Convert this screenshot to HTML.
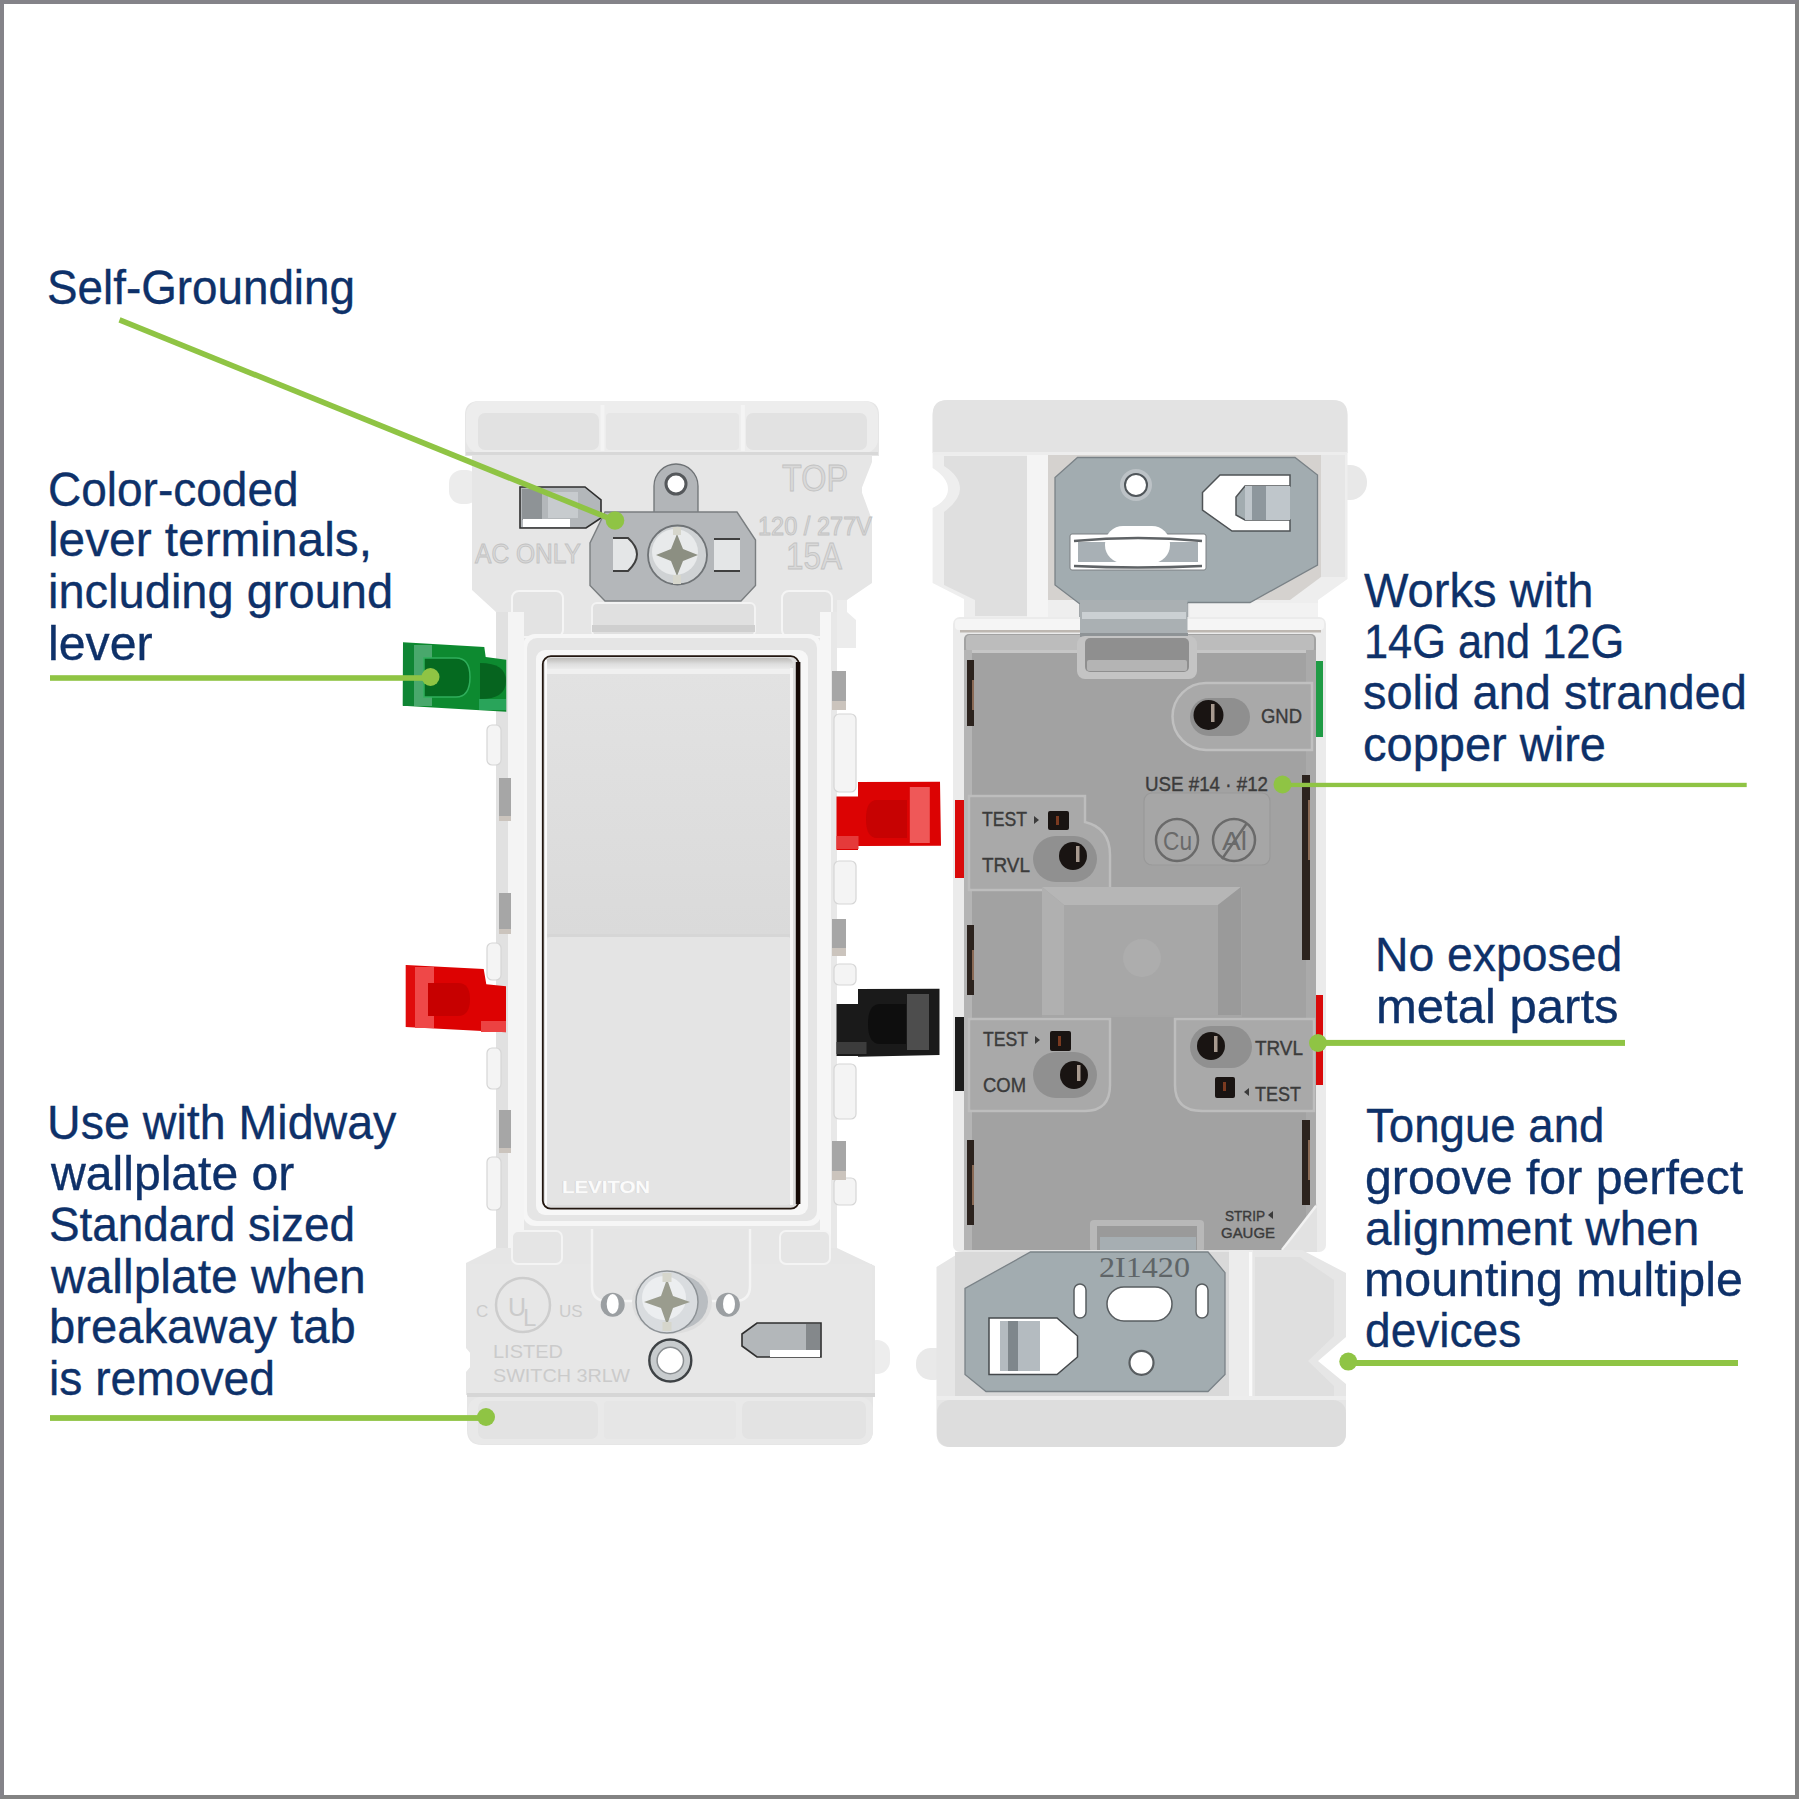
<!DOCTYPE html>
<html><head><meta charset="utf-8">
<style>
html,body{margin:0;padding:0;background:#fff;}
#c{position:relative;width:1800px;height:1800px;overflow:hidden;background:#fff;}
#bd{position:absolute;left:0;top:0;width:1791px;height:1791px;border-left:4px solid #848389;border-top:4px solid #848389;border-right:4px solid #838383;border-bottom:4px solid #838383;}
#art{position:absolute;left:0;top:0;}
.t{position:absolute;font-family:"Liberation Sans",sans-serif;font-size:48px;line-height:48px;color:#0e3169;-webkit-text-stroke:0.35px #0e3169;white-space:nowrap;transform-origin:0 0;}
</style></head><body><div id="c">
<div id="bd"></div>
<svg id="art" width="1800" height="1800" viewBox="0 0 1800 1800">
<!-- PRODUCTS -->
<g id="left">
<!-- ear bumps -->
<rect x="449" y="470" width="30" height="34" rx="13" fill="#ececec"/>
<rect x="864" y="1340" width="26" height="34" rx="13" fill="#ededed"/>
<!-- main silhouette -->
<path fill="#e6e6e6" d="M479,401 H865 Q879,401 879,415 V456 H872 V462 L861,490 L872,520 V583 L847,600 V612 L837,620 V1248 L875,1266 V1395 H873 V1430 Q873,1445 858,1445 H482 Q467,1445 467,1430 V1395 H466 V1372 L476,1360 L466,1348 V1263 L496,1248 V612 L472,590 V456 H465 V415 Q465,401 479,401 Z"/>
<!-- top strap -->
<rect x="466" y="401" width="412" height="52" rx="14" fill="#ededed"/>
<rect x="478" y="413" width="121" height="37" rx="7" fill="#e2e2e2"/>
<rect x="606" y="413" width="133" height="37" rx="4" fill="#e6e6e6"/>
<rect x="746" y="413" width="121" height="37" rx="7" fill="#e2e2e2"/>
<rect x="600.5" y="405" width="4" height="46" fill="#f4f4f4"/>
<rect x="740.8" y="405" width="4" height="46" fill="#f4f4f4"/>
<rect x="466" y="452" width="412" height="3" fill="#d8d8d8"/>
<!-- upper body face -->
<rect x="474" y="455" width="388" height="134" fill="#e6e6e6"/>
<!-- lower tabs near yoke -->
<rect x="512" y="591" width="51" height="46" rx="7" fill="#e3e3e3" stroke="#f5f5f5" stroke-width="2"/>
<rect x="782" y="591" width="50" height="46" rx="7" fill="#e3e3e3" stroke="#f5f5f5" stroke-width="2"/>
<rect x="592" y="603" width="163" height="33" rx="5" fill="#e0e0e0" stroke="#f3f3f3" stroke-width="2"/>
<rect x="592" y="625" width="163" height="7" fill="#cfcfcf"/>
<!-- self-grounding clip -->
<path d="M520,487 H585 L601,500 V518 L586,528 H520 Z" fill="#b3b7ba" stroke="#2f2f2f" stroke-width="1.6"/>
<rect x="522" y="489" width="20" height="31" fill="#8e9396"/>
<rect x="548" y="492" width="30" height="26" fill="#c7cbce"/>
<rect x="523" y="519" width="47" height="8" fill="#ffffff"/>
<!-- embossed text -->
<g font-family="Liberation Sans" fill="#d9d9d9" stroke="#c2c2c2" stroke-width="0.9">
<text x="475" y="563" font-size="27" textLength="106" lengthAdjust="spacingAndGlyphs">AC ONLY</text>
<text x="782" y="491" font-size="37" textLength="66" lengthAdjust="spacingAndGlyphs">TOP</text>
<text x="758" y="535" font-size="25" textLength="114" lengthAdjust="spacingAndGlyphs">120 / 277V</text>
<text x="786" y="569" font-size="37" textLength="56" lengthAdjust="spacingAndGlyphs">15A</text>
</g>
<!-- yoke -->
<path d="M654,514 V486 A22,22 0 1 1 698,486 V514 Z" fill="#b2b5b8" stroke="#6f7376" stroke-width="1.3"/>
<circle cx="676" cy="484" r="10" fill="#ffffff" stroke="#55585b" stroke-width="3"/>
<path d="M605,512 H737 L755.5,540 V585.5 L741,601 H605 L590,585.5 V543 Z" fill="#b4b7ba" stroke="#7a7e80" stroke-width="1.4"/>
<!-- slots -->
<path d="M613,538 H628 Q646,554 628,571 H613" fill="#e4e6e7" stroke="#3f3f3f" stroke-width="2"/>
<path d="M714,539 H740 V571 H714" fill="#e4e6e7"/>
<path d="M714,539 H740 M714,571 H740" stroke="#3f3f3f" stroke-width="2"/>
<!-- screw -->
<circle cx="677.5" cy="555" r="29.5" fill="#cfd2d4" stroke="#6f7376" stroke-width="1.8"/>
<circle cx="675" cy="552" r="23" fill="#e8eaeb"/>
<path d="M677,534 L683,549 L698,555 L683,561 L677,576 L671,561 L656,555 L671,549 Z" fill="#8c8f82"/>
<rect x="673" y="527" width="8" height="8" fill="#d6d6cc"/><rect x="673" y="575" width="8" height="9" fill="#d6d6cc"/>
<!-- frame around paddle -->
<rect x="523" y="634" width="298" height="592" rx="12" fill="#f6f6f6"/>
<rect x="527" y="638" width="290" height="583" rx="10" fill="#e5e5e5"/>
<rect x="536" y="650" width="272" height="565" rx="9" fill="#f7f7f7"/>
<!-- side columns -->
<rect x="496" y="612" width="12" height="636" fill="#e1e1e1"/>
<rect x="508" y="612" width="16" height="636" fill="#f4f4f4"/>
<rect x="820" y="612" width="11" height="636" fill="#f6f6f6"/>
<rect x="831" y="612" width="6" height="636" fill="#e8e8e8"/>
<path d="M837,600 H847 V612 L856,620 V648 H837 Z" fill="#ececec"/>
<g fill="#f4f4f4" stroke="#d6d6d6" stroke-width="1.2">
<rect x="487" y="725" width="14" height="40" rx="5"/>
<rect x="487" y="943" width="14" height="37" rx="5"/>
<rect x="487" y="1048" width="14" height="41" rx="5"/>
<rect x="487" y="1157" width="14" height="53" rx="5"/>
<rect x="834" y="714" width="22" height="78" rx="5"/>
<rect x="834" y="861" width="22" height="43" rx="5"/>
<rect x="834" y="964" width="22" height="21" rx="5"/>
<rect x="834" y="1064" width="22" height="55" rx="5"/>
<rect x="834" y="1178" width="22" height="27" rx="5"/>
</g>
<g fill="#a6a6a6">
<rect x="499" y="778" width="12" height="38"/>
<rect x="499" y="893" width="12" height="36"/>
<rect x="499" y="1110" width="12" height="38"/>
<rect x="832" y="671" width="14" height="30"/>
<rect x="832" y="919" width="14" height="29"/>
<rect x="832" y="1141" width="14" height="30"/>
</g>
<g fill="#cbc4bd">
<rect x="499" y="816" width="12" height="5"/>
<rect x="499" y="929" width="12" height="5"/>
<rect x="499" y="1148" width="12" height="5"/>
<rect x="832" y="701" width="14" height="9"/>
<rect x="832" y="948" width="14" height="8"/>
<rect x="832" y="1171" width="14" height="9"/>
</g>
<!-- paddle -->
<defs><linearGradient id="pt" x1="0" y1="0" x2="0" y2="1"><stop offset="0" stop-color="#bdbbb8"/><stop offset="0.5" stop-color="#dedede"/><stop offset="1" stop-color="#eeeeee"/></linearGradient><linearGradient id="pu" x1="0" y1="0" x2="0" y2="1"><stop offset="0" stop-color="#e2e2e2"/><stop offset="1" stop-color="#dadada"/></linearGradient></defs>
<rect x="542.8" y="656.2" width="256" height="552.5" rx="8" fill="#dddddd" stroke="#22160f" stroke-width="1.8"/>
<rect x="545" y="658" width="248" height="12" rx="6" fill="url(#pt)"/>
<rect x="545" y="669" width="248" height="5" fill="#f0f0f0"/>
<rect x="546" y="674" width="246" height="261" fill="url(#pu)"/>
<rect x="546" y="934" width="246" height="3" fill="#d6d6d6"/>
<rect x="546" y="937" width="246" height="268" rx="5" fill="#e4e4e4"/>
<rect x="545" y="660" width="2" height="545" fill="#fbfbfb"/>
<rect x="790" y="668" width="3" height="537" fill="#f7f7f7"/>
<rect x="795.8" y="662" width="4.6" height="542" fill="#150a07"/>
<text x="561" y="1193" font-family="Liberation Sans" font-weight="bold" font-size="17" fill="#d6d6d6" textLength="88" lengthAdjust="spacingAndGlyphs">LEVITON</text>
<text x="562" y="1193" font-family="Liberation Sans" font-weight="bold" font-size="17" fill="#fbfbfb" textLength="88" lengthAdjust="spacingAndGlyphs">LEVITON</text>
<!-- lower body details -->
<rect x="470" y="1264" width="402" height="131" fill="#e7e7e7"/>
<path d="M592,1229 V1286 Q592,1301 607,1301 H735 Q750,1301 750,1286 V1229" fill="#e5e5e5" stroke="#f4f4f4" stroke-width="2.5"/>
<rect x="512" y="1231" width="50" height="33" rx="6" fill="#e5e5e5" stroke="#f4f4f4" stroke-width="2"/>
<rect x="780" y="1231" width="50" height="33" rx="6" fill="#e5e5e5" stroke="#f4f4f4" stroke-width="2"/>
<!-- UL logo -->
<circle cx="523" cy="1305" r="27" fill="none" stroke="#cdcdcd" stroke-width="2.5"/>
<g font-family="Liberation Sans" fill="#cbcbcb">
<text x="508" y="1316" font-size="25">U</text>
<text x="523" y="1326" font-size="24">L</text>
<text x="476" y="1317" font-size="17">C</text>
<text x="559" y="1317" font-size="17">US</text>
<text x="493" y="1358" font-size="19" textLength="70" lengthAdjust="spacingAndGlyphs">LISTED</text>
<text x="493" y="1382" font-size="19" textLength="137" lengthAdjust="spacingAndGlyphs">SWITCH 3RLW</text>
</g>
<!-- bottom holes & screw -->
<circle cx="612.7" cy="1304.8" r="12" fill="#9b9fa2"/>
<ellipse cx="612.7" cy="1304" rx="6" ry="10" fill="#ffffff"/>
<circle cx="727.9" cy="1304.8" r="12" fill="#9b9fa2"/>
<ellipse cx="729" cy="1304" rx="6" ry="10" fill="#ffffff"/>
<ellipse cx="672" cy="1302" rx="40" ry="32" fill="#dedede"/>
<ellipse cx="675" cy="1302" rx="33" ry="28" fill="#b9bdc1"/>
<circle cx="667" cy="1302" r="31" fill="#d9dcdf" stroke="#8d9296" stroke-width="1.5"/>
<circle cx="664" cy="1298" r="22" fill="#eceef0"/>
<path d="M667,1279 L673,1296 L690,1302 L673,1308 L667,1325 L661,1308 L644,1302 L661,1296 Z" fill="#9a9c8e"/>
<rect x="662.5" y="1273" width="9" height="9" fill="#d6d6cc"/>
<rect x="662.5" y="1322" width="9" height="9" fill="#d6d6cc"/>
<circle cx="670.3" cy="1360.5" r="21" fill="#c8ccce" stroke="#3e4245" stroke-width="2.4"/>
<circle cx="670.3" cy="1360.5" r="13.2" fill="#ffffff" stroke="#8a8e91" stroke-width="1.5"/>
<!-- bottom clip -->
<path d="M757,1323 H821 V1357 H757 L742,1346 V1334 Z" fill="#b3b7ba" stroke="#2f2f2f" stroke-width="1.6"/>
<rect x="806" y="1324" width="14" height="32" fill="#84888b"/>
<rect x="770" y="1350" width="50" height="7" fill="#ffffff"/>
<!-- bottom strap -->
<rect x="467" y="1393" width="408" height="4" fill="#d6d6d6"/>
<rect x="468" y="1397" width="405" height="47" rx="13" fill="#e9e9e9"/>
<rect x="478" y="1401" width="120" height="38" rx="7" fill="#e3e3e3"/>
<rect x="604" y="1401" width="132" height="38" rx="4" fill="#e6e6e6"/>
<rect x="742" y="1401" width="124" height="38" rx="7" fill="#e3e3e3"/>
<!-- levers -->
<!-- green -->
<path d="M403,642.3 L484.3,647 L485.7,657 L506.3,659.7 V711.7 L402.7,705.7 Z" fill="#0d8a30"/>
<rect x="403" y="644" width="11" height="62" fill="#0f8534"/>
<rect x="414" y="645" width="18" height="61" fill="#49a86c"/>
<path d="M424,658 H456 Q470,658 470,677 Q470,697 456,697 H424 Z" fill="#056a20" stroke="#2fae5b" stroke-width="1.5"/>
<path d="M480,663 Q506,663 506,681 Q506,699 480,699 Z" fill="#06641f"/>
<rect x="479" y="699" width="27" height="11" fill="#29a45a"/>
<!-- red left -->
<path d="M405.7,965 L483.7,969 L486.3,984.3 L506,986.3 V1032.3 L405.7,1027 Z" fill="#dd0202"/>
<rect x="406" y="966" width="9" height="61" fill="#e00b0b"/>
<rect x="415" y="967" width="19" height="61" fill="#ef4848"/>
<path d="M428,983 H458 Q470,983 470,999 Q470,1016 458,1016 H428 Z" fill="#c70000"/>
<rect x="481" y="1021" width="25" height="11" fill="#ec4242"/>
<!-- red right -->
<path d="M858,782 L940,781.8 L941,845.8 L858,846 V850 H836.5 V796.4 H858 Z" fill="#dc0303"/>
<rect x="909.8" y="787" width="20" height="56" fill="#ef5858"/>
<path d="M877,800 H907 V838 H877 Q866,838 866,819 Q866,800 877,800 Z" fill="#c70202"/>
<rect x="836.5" y="836" width="22" height="13" fill="#e53a3a"/>
<!-- black -->
<path d="M858,989 L939.5,988.7 V1055 L858,1056.7 V1056 H836.5 V1004 H858 Z" fill="#1a1a1a"/>
<rect x="907" y="994" width="22" height="56" fill="#4d4d4d"/>
<path d="M880,1004 H906 V1044 H880 Q868,1044 868,1024 Q868,1004 880,1004 Z" fill="#0e0e0e"/>
<rect x="836.5" y="1042" width="30" height="12" fill="#3c3c3c"/>
</g>
<g id="right">
<!-- ears -->
<rect x="1328" y="465" width="39" height="35" rx="17" fill="#e8e8e8"/>
<rect x="916" y="1348" width="34" height="32" rx="15" fill="#e9e9e9"/>
<!-- upper silhouette -->
<path fill="#eeeeee" d="M947.6,400 H1332.5 Q1347.5,400 1347.5,415 V579 L1318,600 V622 H954 L964,617 V599 L932.6,583 V508 Q948,500 948,489 Q948,478 932.6,468 V415 Q932.6,400 947.6,400 Z"/>
<!-- top strap -->
<path fill="#e3e3e3" d="M947.6,400 H1332.5 Q1347.5,400 1347.5,415 V453 H932.6 V415 Q932.6,400 947.6,400 Z"/>
<rect x="933" y="452" width="414" height="3" fill="#ededed"/>
<!-- recesses -->
<path fill="#dfdfdf" d="M944,456 H1027 V616 H975 V600 L944,585 V512 Q960,500 960,489 Q960,476 944,466 Z"/>
<rect x="1027" y="455" width="21" height="166" fill="#f4f4f4"/>
<path fill="#d5d2cf" d="M1048,455 H1321 V577 L1290,600 H1048 Z"/>
<rect x="1321" y="455" width="24" height="122" fill="#e6e6e6"/>
<rect x="1190" y="603" width="128" height="19" fill="#f2f2f2"/>
<!-- top metal plate -->
<path d="M1077.5,457.5 H1295 L1317.5,475 V565 L1250,602.5 H1187.5 V660 H1080 V604 L1055,585 V477.5 Z" fill="#a2acb0" stroke="#7a8287" stroke-width="1.3"/>
<path d="M1080,604 H1187.5 V630 H1080 Z" fill="#b9bfc3"/>
<rect x="1082" y="612" width="104" height="6" fill="#d2d6d9"/>
<circle cx="1136" cy="485" r="16" fill="#bcc2c6"/>
<circle cx="1136" cy="485" r="11" fill="#ffffff" stroke="#50565a" stroke-width="2"/>
<!-- slot with springs -->
<rect x="1070" y="534" width="136" height="36" rx="2" fill="#ffffff" stroke="#7a7f82" stroke-width="1"/>
<rect x="1078" y="542" width="120" height="20" fill="#a8b0b5"/>
<rect x="1105" y="526" width="65" height="37" rx="18" fill="#ffffff"/>
<path d="M1074,541 Q1138,535 1202,541 M1074,566 Q1138,569 1202,566" stroke="#5f6366" stroke-width="2.4" fill="none"/>
<!-- C clip -->
<path d="M1220,475 H1290 V486 H1245 L1236,497 V515 L1245,520 H1290 V531 H1232 L1202.5,510 V492.5 Z" fill="#ffffff" stroke="#4f5356" stroke-width="1.5"/>
<rect x="1245" y="486" width="45" height="34" fill="#bfc6cb"/>
<rect x="1252" y="486" width="14" height="34" fill="#8e979d"/>
<!-- white frame & gray body -->
<rect x="953" y="617" width="373" height="635" rx="7" fill="#ebebeb"/>
<rect x="955" y="619" width="369" height="11" rx="4" fill="#f5f5f5"/>
<rect x="960" y="630" width="361" height="2.5" fill="#bdb7b1"/>
<rect x="964" y="634" width="352" height="616" rx="5" fill="#a2a2a2"/>
<rect x="966" y="635" width="348" height="17" rx="4" fill="#bcbcbc"/>
<rect x="966" y="650" width="348" height="3" fill="#c6c6c6"/>
<path d="M1080,600 H1187.5 V637 H1080 Z" fill="#aab0b3"/>
<rect x="1082" y="612" width="104" height="7" fill="#cbd0d3"/>
<rect x="1080" y="633" width="108" height="4" fill="#8e9396"/>
<!-- side edges -->
<rect x="964" y="650" width="8" height="600" fill="#b4b4b4"/>
<rect x="1306" y="650" width="10" height="600" fill="#aaaaaa"/>
<g fill="#2c231e">
<rect x="967" y="660" width="7" height="66"/>
<rect x="967" y="925" width="7" height="70"/>
<rect x="967" y="1140" width="7" height="85"/>
<rect x="1302" y="775" width="8" height="185"/>
<rect x="1302" y="1120" width="8" height="85"/>
</g>
<g fill="#8a6a55">
<rect x="972" y="680" width="2" height="30"/>
<rect x="972" y="950" width="2" height="30"/>
<rect x="972" y="1165" width="2" height="40"/>
<rect x="1308" y="800" width="2" height="60"/>
<rect x="1308" y="1140" width="2" height="40"/>
</g>
<!-- top tab recess -->
<rect x="1077" y="636" width="120" height="43" rx="8" fill="#c4c4c4"/>
<rect x="1085" y="638" width="104" height="34" rx="5" fill="#8f8f8f"/>
<rect x="1087" y="660" width="100" height="11" rx="2" fill="#b4b4b4"/>
<!-- GND raised -->
<path d="M1206,683 H1312 V750 H1206 A33.5,33.5 0 0 1 1206,683 Z" fill="#a9a9a9" stroke="#c0c0c0" stroke-width="2.5"/>
<rect x="1190" y="698" width="60" height="38" rx="19" fill="#8f8f8f"/>
<circle cx="1208.5" cy="715" r="15" fill="#191412"/>
<rect x="1211" y="704" width="3.5" height="18" fill="#a89a8f"/>
<!-- USE box -->
<rect x="1144" y="793" width="126" height="72" rx="8" fill="#a6a6a6" stroke="#999999" stroke-width="1.2"/>
<g font-family="Liberation Sans" fill="#3b3b3b" stroke="#3b3b3b" stroke-width="0.4">
<text x="1261" y="722.5" font-size="21" textLength="41" lengthAdjust="spacingAndGlyphs">GND</text>
<text x="1145" y="790.5" font-size="21" textLength="123" lengthAdjust="spacingAndGlyphs">USE #14 · #12</text>
</g>
<g fill="none" stroke="#6a6a6a" stroke-width="2.5">
<circle cx="1177" cy="840" r="21"/>
<circle cx="1234" cy="840" r="21"/>
<line x1="1222" y1="859" x2="1247" y2="823"/>
</g>
<g font-family="Liberation Sans" fill="#6a6a6a" font-size="26">
<text x="1163" y="850" textLength="29" lengthAdjust="spacingAndGlyphs">Cu</text>
<text x="1222" y="850" textLength="25" lengthAdjust="spacingAndGlyphs">Al</text>
</g>
<!-- TEST/TRVL top block -->
<path d="M969,796 H1085 V822 Q1110,828 1110,855 V890 H969 Z" fill="#a9a9a9" stroke="#bdbdbd" stroke-width="2.5"/>
<rect x="1033" y="836" width="64" height="46" rx="23" fill="#909090"/>
<circle cx="1073" cy="856" r="14" fill="#191412"/>
<rect x="1076" y="846" width="3.5" height="16" fill="#a89a8f"/>
<rect x="1048" y="811" width="21" height="19" rx="2" fill="#191412"/>
<rect x="1056" y="816" width="3" height="9" fill="#7a3a20"/>
<!-- center raised block -->
<rect x="1042" y="887" width="200" height="130" fill="#a6a6a6"/>
<path d="M1042,887 H1241 L1218,905 H1064 Z" fill="#b6b6b6"/>
<path d="M1042,887 L1064,905 V1015 H1042 Z" fill="#b0b0b0"/>
<path d="M1241,887 L1218,905 V1015 H1241 Z" fill="#9a9a9a"/>
<rect x="1064" y="905" width="154" height="110" fill="#a7a7a7"/>
<circle cx="1142" cy="958" r="19" fill="#adadad"/>
<!-- bottom left block -->
<path d="M969,1019 H1110 V1085 Q1110,1111 1085,1111 H969 Z" fill="#a9a9a9" stroke="#bdbdbd" stroke-width="2.5"/>
<rect x="1033" y="1052" width="64" height="46" rx="23" fill="#909090"/>
<circle cx="1074" cy="1075" r="14" fill="#191412"/>
<rect x="1077" y="1065" width="3.5" height="16" fill="#a89a8f"/>
<rect x="1050" y="1031" width="21" height="20" rx="2" fill="#191412"/>
<rect x="1058" y="1036" width="3" height="10" fill="#7a3a20"/>
<!-- bottom right block -->
<path d="M1175,1019 H1314 V1111 H1202 Q1175,1111 1175,1085 Z" fill="#a9a9a9" stroke="#bdbdbd" stroke-width="2.5"/>
<rect x="1190" y="1026" width="62" height="42" rx="21" fill="#909090"/>
<circle cx="1211" cy="1046" r="14" fill="#191412"/>
<rect x="1214" y="1036" width="3.5" height="16" fill="#a89a8f"/>
<rect x="1215" y="1077" width="20" height="21" rx="2" fill="#191412"/>
<rect x="1223" y="1082" width="3" height="9" fill="#7a3a20"/>
<g font-family="Liberation Sans" fill="#3b3b3b" stroke="#3b3b3b" stroke-width="0.4">
<text x="982" y="826" font-size="20" textLength="45" lengthAdjust="spacingAndGlyphs">TEST</text>
<text x="982" y="872" font-size="20" textLength="48" lengthAdjust="spacingAndGlyphs">TRVL</text>
<text x="983" y="1046" font-size="20" textLength="45" lengthAdjust="spacingAndGlyphs">TEST</text>
<text x="983" y="1092" font-size="20" textLength="43" lengthAdjust="spacingAndGlyphs">COM</text>
<text x="1255" y="1055" font-size="20" textLength="48" lengthAdjust="spacingAndGlyphs">TRVL</text>
<text x="1255" y="1101" font-size="20" textLength="46" lengthAdjust="spacingAndGlyphs">TEST</text>
<text x="1225" y="1221" font-size="15" textLength="40" lengthAdjust="spacingAndGlyphs">STRIP</text>
<text x="1221" y="1238" font-size="15" textLength="54" lengthAdjust="spacingAndGlyphs">GAUGE</text>
</g>
<g fill="#3b3b3b">
<path d="M1034,816 L1039,820 L1034,824 Z"/>
<path d="M1035,1036 L1040,1040 L1035,1044 Z"/>
<path d="M1249,1088 L1244,1092 L1249,1096 Z"/>
<path d="M1273,1211 L1268,1215 L1273,1219 Z"/>
</g>
<!-- strip gauge diagonal -->
<path d="M1317,1203 V1252 H1282 Z" fill="#e2e2e2"/>
<path d="M1282,1250 L1316,1206" stroke="#f2f2f2" stroke-width="2.5"/>
<!-- bottom tab -->
<rect x="1090" y="1220" width="114" height="32" rx="4" fill="#b8b8b8"/>
<rect x="1097" y="1226" width="100" height="26" fill="#9a9a9a"/>
<rect x="1100" y="1237" width="96" height="16" fill="#a6aeb2"/>
<!-- bottom plate area -->
<path fill="#e6e6e6" d="M964,1250 H1302 L1346,1273 V1337 L1318,1361 L1346,1384 V1433 Q1346,1447 1332,1447 H950 Q936.5,1447 936.5,1433 V1267 Z"/>
<rect x="955" y="1252" width="274" height="146" fill="#d9d9d9"/>
<rect x="1229" y="1250" width="24" height="148" fill="#ececec"/>
<rect x="1249" y="1252" width="3" height="146" fill="#fafafa"/>
<path fill="#dfdfdf" d="M1255,1257 H1300 L1334,1280 V1336 L1308,1361 L1334,1386 V1396 H1255 Z"/>
<path d="M1030.5,1252 H1208 L1225,1272.7 V1374.5 L1208,1391.5 H986 L965,1374.5 V1288.4 Z" fill="#a2acb0" stroke="#7a8287" stroke-width="1.3"/>
<text x="1099" y="1277" font-family="Liberation Serif" font-size="30" fill="#5f6568" textLength="91" lengthAdjust="spacingAndGlyphs">2I1420</text>
<rect x="1107" y="1287" width="65" height="34" rx="17" fill="#ffffff" stroke="#585d60" stroke-width="1.5"/>
<rect x="1074" y="1284" width="12" height="34" rx="6" fill="#ffffff" stroke="#585d60" stroke-width="1.5"/>
<rect x="1196" y="1284" width="12" height="34" rx="6" fill="#ffffff" stroke="#585d60" stroke-width="1.5"/>
<circle cx="1141.5" cy="1362.8" r="12" fill="#ffffff" stroke="#585d60" stroke-width="2.2"/>
<path d="M989,1318 H1057 L1077.5,1336 V1357 L1057,1374.5 H989 Z" fill="#ffffff" stroke="#45494c" stroke-width="1.5"/>
<rect x="1000" y="1321" width="40" height="50" fill="#b4bbc0"/>
<rect x="1008" y="1321" width="10" height="50" fill="#7f878c"/>
<!-- bottom strap -->
<rect x="937" y="1396" width="409" height="4" fill="#ededed"/>
<rect x="937" y="1400" width="409" height="47" rx="13" fill="#dddddd"/>
<!-- side levers slivers -->
<rect x="955" y="800" width="9" height="78" fill="#d90a0a"/>
<rect x="955" y="1017" width="9" height="74" fill="#1c1c1c"/>
<rect x="1316" y="661" width="7" height="76" fill="#1f9b45"/>
<rect x="1316" y="995" width="7" height="90" fill="#d90a0a"/>
</g>
<!-- GREEN CALLOUTS -->
<g fill="#8fc444" stroke="none">
<polygon points="120.5,317.2 616.5,518.3 614.5,523.5 118.5,322.4"/>
<circle cx="615" cy="520.5" r="9.3"/>
<rect x="50" y="675.2" width="381" height="5.6"/>
<circle cx="430.5" cy="677" r="9"/>
<rect x="50" y="1415.1" width="436" height="5.8"/>
<circle cx="486" cy="1417" r="9"/>
<rect x="1282" y="782.8" width="464.7" height="4.3"/>
<circle cx="1282.5" cy="784.5" r="9"/>
<rect x="1318" y="1039.9" width="307" height="6"/>
<circle cx="1318" cy="1043" r="9"/>
<rect x="1348" y="1360" width="390" height="6"/>
<circle cx="1348.3" cy="1361.6" r="9"/>
</g>
</svg>
<!-- TEXT -->
<div class="t" style="left:47.1px;top:263.7px;transform:scaleX(0.9538)">Self-Grounding</div>
<div class="t" style="left:48.1px;top:465.7px;transform:scaleX(0.9582)">Color-coded</div>
<div class="t" style="left:48.0px;top:516.2px;transform:scaleX(0.9953)">lever terminals,</div>
<div class="t" style="left:48.1px;top:567.5px;transform:scaleX(0.9798)">including ground</div>
<div class="t" style="left:48.0px;top:619.7px;transform:scaleX(1.006)">lever</div>
<div class="t" style="left:47.1px;top:1099.1px;transform:scaleX(0.9702)">Use with Midway</div>
<div class="t" style="left:50.7px;top:1149.7px;transform:scaleX(1.0025)">wallplate or</div>
<div class="t" style="left:49.1px;top:1201.2px;transform:scaleX(0.9556)">Standard sized</div>
<div class="t" style="left:50.7px;top:1252.8px;transform:scaleX(0.9997)">wallplate when</div>
<div class="t" style="left:48.7px;top:1303.4px;transform:scaleX(0.9824)">breakaway tab</div>
<div class="t" style="left:48.7px;top:1355.0px;transform:scaleX(0.9624)">is removed</div>
<div class="t" style="left:1364.0px;top:567.2px;transform:scaleX(0.9814)">Works with</div>
<div class="t" style="left:1364.1px;top:618.0px;transform:scaleX(0.9025)">14G and 12G</div>
<div class="t" style="left:1363.3px;top:669.3px;transform:scaleX(0.9783)">solid and stranded</div>
<div class="t" style="left:1363.3px;top:720.6px;transform:scaleX(0.9791)">copper wire</div>
<div class="t" style="left:1374.8px;top:930.8px;transform:scaleX(0.9651)">No exposed</div>
<div class="t" style="left:1375.6px;top:982.9px;transform:scaleX(1.0215)">metal parts</div>
<div class="t" style="left:1366.0px;top:1102.3px;transform:scaleX(0.9502)">Tongue and</div>
<div class="t" style="left:1365.0px;top:1153.6px;transform:scaleX(1.0053)">groove for perfect</div>
<div class="t" style="left:1365.0px;top:1204.8px;transform:scaleX(0.9946)">alignment when</div>
<div class="t" style="left:1364.0px;top:1256.1px;transform:scaleX(1.007)">mounting multiple</div>
<div class="t" style="left:1365.1px;top:1307.2px;transform:scaleX(0.9604)">devices</div>
</div></body></html>
